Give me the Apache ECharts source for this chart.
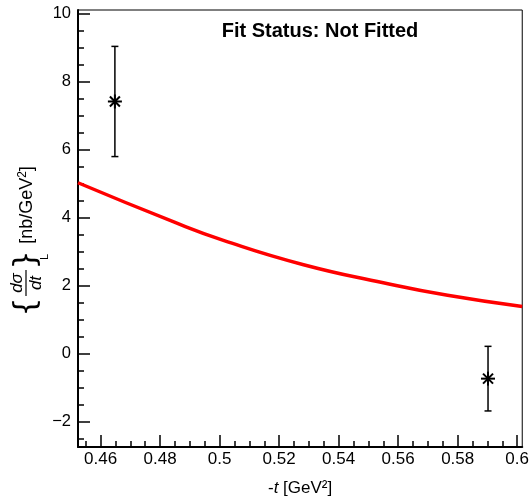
<!DOCTYPE html>
<html>
<head>
<meta charset="utf-8">
<script src="https://cdn.jsdelivr.net/npm/echarts@6/dist/echarts.min.js"></script>
<style>html,body{margin:0;padding:0;background:#fff}#c{width:532px;height:502px}</style>
</head>
<body>
<div id="c"></div>
<script>
// ---- data ----
const pointX = [0.4648, 0.5902];
const pointY = [7.41, -0.74];
const pointErr = [1.62, 0.95];
const curveX = [0.4524, 0.4848, 0.5015, 0.5282, 0.5550, 0.5766, 0.6017];
const curveY = [5.02, 3.86, 3.32, 2.61, 2.08, 1.71, 1.38];
const xMajorTicks = [0.46, 0.48, 0.50, 0.52, 0.54, 0.56, 0.58, 0.60];
const xMinorTicks = [0.455, 0.465, 0.47, 0.475, 0.485, 0.49, 0.495, 0.505, 0.51, 0.515, 0.525, 0.53, 0.535, 0.545, 0.55, 0.555, 0.565, 0.57, 0.575, 0.585, 0.59, 0.595];
const yMajorTicks = [-2, 0, 2, 4, 6, 8, 10];
const yMinorTicks = [-2.5, -1.5, -1, -0.5, 0.5, 1, 1.5, 2.5, 3, 3.5, 4.5, 5, 5.5, 6.5, 7, 7.5, 8.5, 9, 9.5];
const xRange = [0.4524, 0.6017];
const yRange = [-2.75, 10.1];
const titleText = 'Fit Status: Not Fitted';

const FONT = '"Liberation Sans", Arial, Helvetica, sans-serif';
const chart = echarts.init(document.getElementById('c'), null, {renderer: 'canvas'});

const baseX = {
  type: 'value', min: xRange[0], max: xRange[1], position: 'bottom',
  splitLine: {show: false}
};
const baseY = {
  type: 'value', min: yRange[0], max: yRange[1], position: 'left',
  splitLine: {show: false}
};

const option = {
  animation: false,
  grid: {left: 78, right: 7, top: 10, bottom: 44, show: true, borderColor: '#000', borderWidth: 1, containLabel: false},
  xAxis: [
    Object.assign({}, baseX, {
      axisLine: {show: true, onZero: false, lineStyle: {color: '#000', width: 2}},
      axisTick: {show: true, inside: true, length: 12, lineStyle: {color: '#000', width: 1.5}, customValues: xMajorTicks},
      axisLabel: {show: true, customValues: xMajorTicks, color: '#000', fontSize: 17, fontFamily: FONT, margin: 4,
        formatter: v => String(+v.toFixed(3))},
      name: '-{i|t} [GeV²]', nameLocation: 'middle', nameGap: 33,
      nameTextStyle: {color: '#000', fontSize: 17, fontFamily: FONT,
        rich: {i: {fontStyle: 'italic', fontSize: 17, fontFamily: FONT, color: '#000'}}}
    }),
    Object.assign({}, baseX, {
      axisLine: {show: false, onZero: false},
      axisTick: {show: true, inside: true, length: 6, lineStyle: {color: '#000', width: 1.5}, customValues: xMinorTicks},
      axisLabel: {show: false}
    })
  ],
  yAxis: [
    Object.assign({}, baseY, {
      axisLine: {show: true, onZero: false, lineStyle: {color: '#000', width: 2}},
      axisTick: {show: true, inside: true, length: 12, lineStyle: {color: '#000', width: 1.5}, customValues: yMajorTicks},
      axisLabel: {show: true, customValues: yMajorTicks, color: '#000', fontSize: 16.5, fontFamily: FONT, margin: 7,
        formatter: v => String(v).replace('-', '\u2212')}
    }),
    Object.assign({}, baseY, {
      axisLine: {show: false, onZero: false},
      axisTick: {show: true, inside: true, length: 6, lineStyle: {color: '#000', width: 1.5}, customValues: yMinorTicks},
      axisLabel: {show: false}
    })
  ],
  series: [
    {
      type: 'line', xAxisIndex: 0, yAxisIndex: 0,
      data: curveX.map((x, i) => [x, curveY[i]]),
      smooth: true, showSymbol: false, clip: true,
      lineStyle: {color: '#ff0000', width: 3.5}
    },
    {
      type: 'custom', xAxisIndex: 0, yAxisIndex: 0,
      data: pointX.map((x, i) => [x, pointY[i], pointErr[i]]),
      renderItem: function (params, api) {
        const x = api.value(0), y = api.value(1), e = api.value(2);
        const c = api.coord([x, y]);
        const top = api.coord([x, y + e]);
        const bot = api.coord([x, y - e]);
        const cap = 3.5, m = 7, d = 5;
        const L = (x1, y1, x2, y2, w) => ({type: 'line', shape: {x1, y1, x2, y2}, style: {stroke: '#000', lineWidth: w || 1.5}});
        return {
          type: 'group',
          children: [
            L(c[0], top[1], c[0], bot[1]),
            L(c[0] - cap, top[1], c[0] + cap, top[1]),
            L(c[0] - cap, bot[1], c[0] + cap, bot[1]),
            L(c[0] - m, c[1], c[0] + m, c[1], 2),
            L(c[0], c[1] - m, c[0], c[1] + m, 2),
            L(c[0] - d, c[1] - d, c[0] + d, c[1] + d, 2),
            L(c[0] - d, c[1] + d, c[0] + d, c[1] - d, 2)
          ]
        };
      }
    }
  ],
  graphic: [
    {type: 'text', x: 320, y: 31, style: {text: titleText, align: 'center', verticalAlign: 'middle',
      font: 'bold 20px ' + FONT, fill: '#000'}},
    // y-axis title, rotated
    {type: 'text', x: 27, y: 205, rotation: Math.PI / 2, style: {text: '[nb/GeV{s|2}]', align: 'center', verticalAlign: 'middle',
      font: '18px ' + FONT, fill: '#000',
      rich: {s: {fontSize: 12, fontFamily: FONT, fill: '#000', verticalAlign: 'top', padding: [0, 0, 8, 0]}}}},
    {type: 'text', x: 45, y: 257, rotation: Math.PI / 2, style: {text: 'L', align: 'center', verticalAlign: 'middle',
      font: '11px ' + FONT, fill: '#000'}},
    {type: 'text', x: 17, y: 283, rotation: Math.PI / 2, style: {text: 'dσ', align: 'center', verticalAlign: 'middle',
      font: 'italic 17px ' + FONT, fill: '#000'}},
    {type: 'line', shape: {x1: 26, y1: 270, x2: 26, y2: 296}, style: {stroke: '#000', lineWidth: 1.2}},
    {type: 'text', x: 36, y: 283, rotation: Math.PI / 2, style: {text: 'dt', align: 'center', verticalAlign: 'middle',
      font: 'italic 17px ' + FONT, fill: '#000'}},
    {type: 'text', x: 27, y: 307, rotation: Math.PI / 2, style: {text: '{', align: 'center', verticalAlign: 'middle',
      font: '30px "DejaVu Sans", ' + FONT, fill: '#000'}},
    {type: 'text', x: 27, y: 260, rotation: Math.PI / 2, style: {text: '}', align: 'center', verticalAlign: 'middle',
      font: '30px "DejaVu Sans", ' + FONT, fill: '#000'}}
  ]
};
chart.setOption(option);
</script>
</body>
</html>
